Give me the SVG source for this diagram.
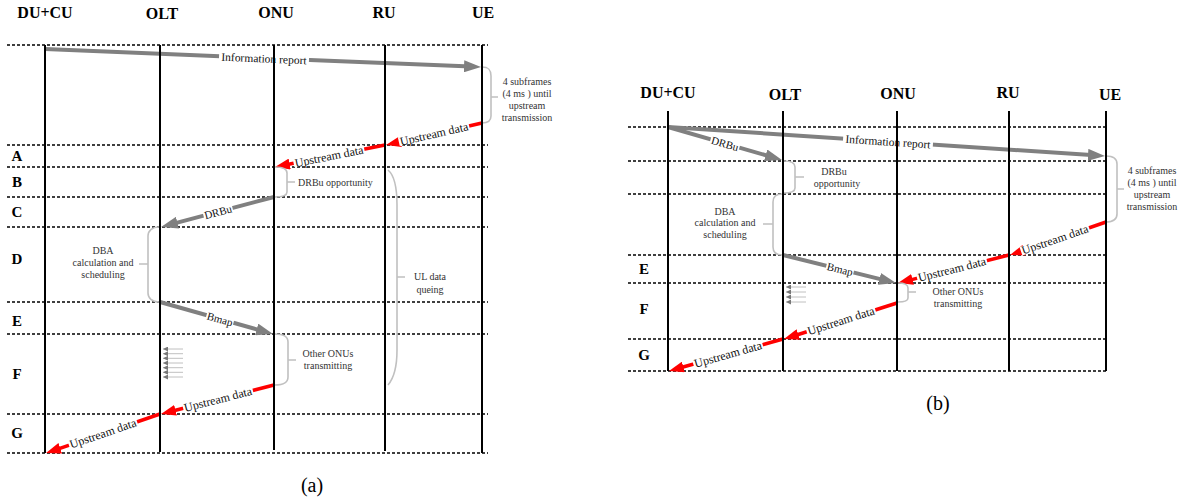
<svg xmlns="http://www.w3.org/2000/svg" width="1183" height="504" viewBox="0 0 1183 504">
<style>
text{font-family:"Liberation Serif","Times New Roman","DejaVu Serif",serif}
.hd{font-weight:bold;font-size:16px;text-anchor:middle;fill:#000}
.row{font-weight:bold;font-size:15px;text-anchor:middle;fill:#000}
.grid{stroke:#000;stroke-width:1.4;stroke-dasharray:3 2;fill:none}
.life{stroke:#000;stroke-width:2;fill:none}
.ga{stroke:#808080;stroke-width:4;fill:none;marker-end:url(#ag)}
.ra{stroke:#ff0000;stroke-width:3.5;fill:none;marker-end:url(#ar)}
.lbl{font-size:12px;text-anchor:middle;fill:#111}
.lbl11{font-size:11px;text-anchor:middle;fill:#111}
.br{stroke:#c0c0c0;stroke-width:1.6;fill:none}
.bt{font-size:10px;fill:#333}
.sa{stroke:#c0c0c0;stroke-width:1;fill:none;marker-end:url(#as)}
.cap{font-size:20px;text-anchor:middle;fill:#000}
</style>
<defs>
<marker id="ag" markerUnits="userSpaceOnUse" markerWidth="18" markerHeight="12" refX="7" refY="6" orient="auto"><path d="M0,0 L17,6 L0,12 z" fill="#808080"/></marker>
<marker id="ar" markerUnits="userSpaceOnUse" markerWidth="16" markerHeight="11" refX="5" refY="5.5" orient="auto"><path d="M0,0 L15,5.5 L0,11 z" fill="#ff0000"/></marker>
<marker id="as" markerUnits="userSpaceOnUse" markerWidth="6" markerHeight="5" refX="5" refY="2.5" orient="auto"><path d="M0,0 L5,2.5 L0,5 z" fill="#777"/></marker>
</defs>
<rect width="1183" height="504" fill="#fff"/>

<!-- ===== Diagram (a) ===== -->
<g id="grid-a">
<line class="grid" x1="7" y1="45" x2="488" y2="45"/>
<line class="grid" x1="7" y1="145" x2="488" y2="145"/>
<line class="grid" x1="7" y1="167" x2="488" y2="167"/>
<line class="grid" x1="7" y1="197" x2="488" y2="197"/>
<line class="grid" x1="7" y1="227" x2="488" y2="227"/>
<line class="grid" x1="7" y1="302" x2="488" y2="302"/>
<line class="grid" x1="7" y1="334" x2="488" y2="334"/>
<line class="grid" x1="7" y1="414" x2="488" y2="414"/>
<line class="grid" x1="7" y1="453" x2="488" y2="453"/>
</g>
<g id="rows-a">
<text class="row" x="17" y="161">A</text>
<text class="row" x="17" y="187">B</text>
<text class="row" x="17" y="217">C</text>
<text class="row" x="17" y="264">D</text>
<text class="row" x="17" y="326">E</text>
<text class="row" x="17" y="379">F</text>
<text class="row" x="17" y="438">G</text>
</g>

<g id="connectors-a">
<line class="ga" x1="45" y1="49" x2="471" y2="66.6"/>
<line class="ra" x1="482" y1="123" x2="395.7" y2="142.8"/>
<line class="ra" x1="385" y1="145" x2="284.8" y2="165"/>
<line class="ga" x1="274" y1="197" x2="170.7" y2="224.4"/>
<line class="ga" x1="160" y1="302" x2="263.4" y2="331.3"/>
<line class="ra" x1="274" y1="385" x2="170.7" y2="411.5"/>
<line class="ra" x1="160" y1="414" x2="55.5" y2="449.8"/>
<g transform="rotate(2.4 264 58.5)"><rect x="219" y="53" width="90" height="11" fill="#fff"/><text class="lbl" x="264" y="62.5" style="font-size:11.5px">Information report</text></g>
<g transform="rotate(-12.9 434 134)"><rect x="398" y="129" width="72" height="9" fill="#fff"/><text class="lbl" x="434" y="138">Upstream data</text></g>
<g transform="rotate(-11.3 329 156.4)"><rect x="293" y="152" width="72" height="8" fill="#fff"/><text class="lbl" x="329" y="160.4">Upstream data</text></g>
<g transform="rotate(-14.9 218 211.9)"><rect x="203" y="207" width="30" height="9" fill="#fff"/><text class="lbl11" x="218" y="215.9">DRBu</text></g>
<g transform="rotate(15.8 220 319)"><rect x="206" y="314" width="28" height="9" fill="#fff"/><text class="lbl11" x="220" y="323">Bmap</text></g>
<g transform="rotate(-14.4 218 399.4)"><rect x="182" y="395" width="72" height="9" fill="#fff"/><text class="lbl" x="218" y="403.4">Upstream data</text></g>
<g transform="rotate(-18.9 103 433.5)"><rect x="67" y="429" width="72" height="9" fill="#fff"/><text class="lbl" x="103" y="437.5">Upstream data</text></g>
</g>

<g id="braces-a">
<path class="br" d="M482,67 C489,67 491,70 491,76 V116 C491,121 488,123 482,123 M491,97 H498"/>
<text class="bt" text-anchor="middle" x="527" y="85">4 subframes</text>
<text class="bt" text-anchor="middle" x="527" y="97">(4 ms ) until</text>
<text class="bt" text-anchor="middle" x="527" y="109">upstream</text>
<text class="bt" text-anchor="middle" x="527" y="121">transmission</text>
<path class="br" d="M275,167 C284,167 287,169 287,173 V192 C287,195 283,197 275,197 M287,182 H295"/>
<text class="bt" x="298" y="186">DRBu opportunity</text>
<path class="br" d="M159,227 C152,227 148,231 148,236 V293 C148,298 152,302 159,302 M148,264 H139"/>
<text class="bt" text-anchor="middle" x="103" y="254">DBA</text>
<text class="bt" text-anchor="middle" x="103" y="266">calculation and</text>
<text class="bt" text-anchor="middle" x="103" y="278">scheduling</text>
<path class="br" d="M275,334 C284,334 288,337 288,342 V377 C288,382 284,385 275,385 M288,360 H296"/>
<text class="bt" text-anchor="middle" x="328" y="357">Other ONUs</text>
<text class="bt" text-anchor="middle" x="328" y="369">transmitting</text>
<path class="br" d="M388,170 C394,175 397,185 397,205 V350 C397,368 394,378 388,385 M397,277 H405"/>
<text class="bt" text-anchor="middle" x="430" y="280">UL data</text>
<text class="bt" text-anchor="middle" x="430" y="293">queing</text>
</g>

<g id="small-a">
<line class="sa" x1="183" y1="349" x2="163" y2="349"/>
<line class="sa" x1="183" y1="353.7" x2="163" y2="353.7"/>
<line class="sa" x1="183" y1="358.3" x2="163" y2="358.3"/>
<line class="sa" x1="183" y1="363" x2="163" y2="363"/>
<line class="sa" x1="183" y1="367.7" x2="163" y2="367.7"/>
<line class="sa" x1="183" y1="372.3" x2="163" y2="372.3"/>
<line class="sa" x1="183" y1="377" x2="163" y2="377"/>
</g>

<g id="lifelines-a">
<g id="a-ducu"><text class="hd" x="45" y="18">DU+CU</text><line class="life" x1="45" y1="45" x2="45" y2="453"/></g>
<g id="a-olt"><text class="hd" x="162" y="19">OLT</text><line class="life" x1="160" y1="45" x2="160" y2="452"/></g>
<g id="a-onu"><text class="hd" x="276" y="18">ONU</text><line class="life" x1="274" y1="45" x2="274" y2="450"/></g>
<g id="a-ru"><text class="hd" x="384" y="18">RU</text><line class="life" x1="385" y1="45" x2="385" y2="451"/></g>
<g id="a-ue"><text class="hd" x="483" y="18">UE</text><line class="life" x1="482" y1="45" x2="482" y2="453"/></g>
</g>
<text class="cap" x="312" y="492">(a)</text>

<!-- ===== Diagram (b) ===== -->
<g id="grid-b">
<line class="grid" x1="628" y1="127" x2="1106" y2="127"/>
<line class="grid" x1="628" y1="161" x2="1106" y2="161"/>
<line class="grid" x1="628" y1="194" x2="1106" y2="194"/>
<line class="grid" x1="628" y1="255" x2="1106" y2="255"/>
<line class="grid" x1="628" y1="283" x2="1106" y2="283"/>
<line class="grid" x1="628" y1="339" x2="1106" y2="339"/>
<line class="grid" x1="628" y1="371" x2="1106" y2="371"/>
</g>
<g id="rows-b">
<text class="row" x="644" y="274">E</text>
<text class="row" x="644" y="314">F</text>
<text class="row" x="644" y="360">G</text>
</g>

<g id="connectors-b">
<line class="ga" x1="668" y1="127" x2="1095" y2="155.3"/>
<line class="ga" x1="668" y1="127" x2="772.4" y2="157.2"/>
<line class="ga" x1="783" y1="255" x2="886.3" y2="280.6"/>
<line class="ra" x1="1106" y1="222" x2="1019.5" y2="251.8"/>
<line class="ra" x1="1009" y1="255" x2="907.7" y2="280.6"/>
<line class="ra" x1="897" y1="303" x2="793.5" y2="336"/>
<line class="ra" x1="783" y1="339" x2="678.6" y2="368.3"/>
<g transform="rotate(3.8 888 141.6)"><rect x="843" y="136" width="90" height="11" fill="#fff"/><text class="lbl" x="888" y="145.6" style="font-size:11.5px">Information report</text></g>
<g transform="rotate(16.2 725 143.5)"><rect x="710" y="139" width="30" height="9" fill="#fff"/><text class="lbl11" x="725" y="147.5">DRBu</text></g>
<g transform="rotate(13.9 840 269.1)"><rect x="826" y="264.5" width="28" height="9" fill="#fff"/><text class="lbl11" x="840" y="273.1">Bmap</text></g>
<g transform="rotate(-19 1055 239.5)"><rect x="1019" y="235" width="72" height="9" fill="#fff"/><text class="lbl" x="1055" y="243.5">Upstream data</text></g>
<g transform="rotate(-14.2 952 269.4)"><rect x="916" y="265" width="72" height="8" fill="#fff"/><text class="lbl" x="952" y="273.4">Upstream data</text></g>
<g transform="rotate(-17.7 841 320.8)"><rect x="805" y="316" width="72" height="9" fill="#fff"/><text class="lbl" x="841" y="324.8">Upstream data</text></g>
<g transform="rotate(-15.7 728 354.4)"><rect x="692" y="350" width="72" height="9" fill="#fff"/><text class="lbl" x="728" y="358.4">Upstream data</text></g>
</g>

<g id="braces-b">
<path class="br" d="M1106,156 C1113,156 1117,159 1117,164 V214 C1117,219 1113,222 1106,222 M1117,189 H1124"/>
<text class="bt" text-anchor="middle" x="1152" y="174">4 subframes</text>
<text class="bt" text-anchor="middle" x="1152" y="186">(4 ms ) until</text>
<text class="bt" text-anchor="middle" x="1152" y="198">upstream</text>
<text class="bt" text-anchor="middle" x="1152" y="210">transmission</text>
<path class="br" d="M784,161 C791,161 795,163 795,167 V188 C795,191 791,193 784,193 M795,177 H804"/>
<text class="bt" text-anchor="middle" x="834" y="175">DRBu</text>
<text class="bt" text-anchor="middle" x="837" y="187">opportunity</text>
<path class="br" d="M782,194 C776,194 773,197 773,202 V247 C773,252 776,255 782,255 M773,224 H763"/>
<text class="bt" text-anchor="middle" x="725" y="215">DBA</text>
<text class="bt" text-anchor="middle" x="725" y="226">calculation and</text>
<text class="bt" text-anchor="middle" x="725" y="238">scheduling</text>
<path class="br" d="M898,283 C905,283 908,285 908,288 V298 C908,301 905,302 898,302 M908,292 H916"/>
<text class="bt" text-anchor="middle" x="958" y="295">Other ONUs</text>
<text class="bt" text-anchor="middle" x="958" y="307">transmitting</text>
</g>

<g id="small-b">
<line class="sa" x1="806" y1="287" x2="786" y2="287"/>
<line class="sa" x1="806" y1="292" x2="786" y2="292"/>
<line class="sa" x1="806" y1="297" x2="786" y2="297"/>
<line class="sa" x1="806" y1="302" x2="786" y2="302"/>
</g>

<g id="lifelines-b">
<g id="b-ducu"><text class="hd" x="668" y="98">DU+CU</text><line class="life" x1="668" y1="111" x2="668" y2="371"/></g>
<g id="b-olt"><text class="hd" x="785" y="100">OLT</text><line class="life" x1="783" y1="111" x2="783" y2="371"/></g>
<g id="b-onu"><text class="hd" x="898" y="99">ONU</text><line class="life" x1="897" y1="111" x2="897" y2="371"/></g>
<g id="b-ru"><text class="hd" x="1008" y="98">RU</text><line class="life" x1="1009" y1="111" x2="1009" y2="371"/></g>
<g id="b-ue"><text class="hd" x="1110" y="100">UE</text><line class="life" x1="1106" y1="111" x2="1106" y2="371"/></g>
</g>
<text class="cap" x="938" y="410">(b)</text>
</svg>
